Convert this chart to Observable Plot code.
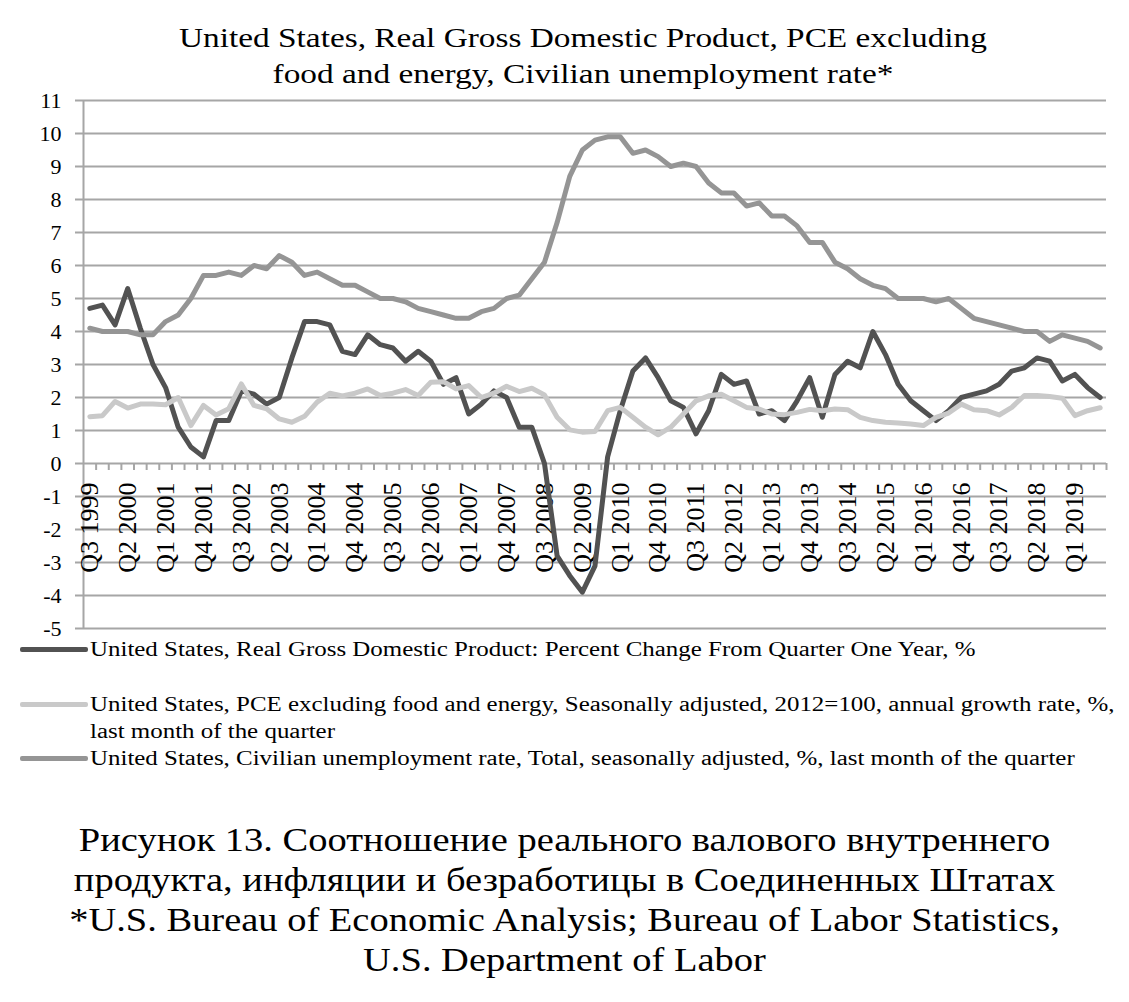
<!DOCTYPE html>
<html>
<head>
<meta charset="utf-8">
<script src="https://cdn.jsdelivr.net/npm/d3@7"></script>
<script src="https://cdn.jsdelivr.net/npm/@observablehq/plot@0.6"></script>
<style>
  body { margin: 0; background: #fff; font-family: "Liberation Serif", "Times New Roman", serif; color: #000; }
  #wrap { position: relative; width: 1129px; height: 1002px; overflow: hidden; }
  #title { position: absolute; top: 20px; left: 0; width: 1166px; text-align: center; font-size: 28px; line-height: 36px; transform: scaleX(1.19); transform-origin: 50% 50%; }
  #chart { position: absolute; top: 0; left: 0; }
  #legend { position: absolute; top: 636px; left: 20px; width: 1100px; font-size: 20px; line-height: 27px; }
  .li { position: relative; padding-left: 70px; }
  .sw { position: absolute; left: 0; top: 11px; width: 68px; height: 5px; border-radius: 2px; }
  .lt { display: inline-block; width: 835px; transform: scaleX(1.246); transform-origin: 0 50%; white-space: normal; }
  #caption { position: absolute; top: 820px; left: 0; width: 1129px; text-align: center; font-size: 33px; line-height: 40px; transform: scaleX(1.166); transform-origin: 50% 50%; }
</style>
</head>
<body>
<div id="wrap">
  <div id="chart"></div>
  <div id="title"></div>
  <div id="legend"></div>
  <div id="caption"></div>
</div>
<script>
// ---- Data ----
const quarters = [
  "Q3 1999","Q4 1999",
  "Q1 2000","Q2 2000","Q3 2000","Q4 2000",
  "Q1 2001","Q2 2001","Q3 2001","Q4 2001",
  "Q1 2002","Q2 2002","Q3 2002","Q4 2002",
  "Q1 2003","Q2 2003","Q3 2003","Q4 2003",
  "Q1 2004","Q2 2004","Q3 2004","Q4 2004",
  "Q1 2005","Q2 2005","Q3 2005","Q4 2005",
  "Q1 2006","Q2 2006","Q3 2006","Q4 2006",
  "Q1 2007","Q2 2007","Q3 2007","Q4 2007",
  "Q1 2008","Q2 2008","Q3 2008","Q4 2008",
  "Q1 2009","Q2 2009","Q3 2009","Q4 2009",
  "Q1 2010","Q2 2010","Q3 2010","Q4 2010",
  "Q1 2011","Q2 2011","Q3 2011","Q4 2011",
  "Q1 2012","Q2 2012","Q3 2012","Q4 2012",
  "Q1 2013","Q2 2013","Q3 2013","Q4 2013",
  "Q1 2014","Q2 2014","Q3 2014","Q4 2014",
  "Q1 2015","Q2 2015","Q3 2015","Q4 2015",
  "Q1 2016","Q2 2016","Q3 2016","Q4 2016",
  "Q1 2017","Q2 2017","Q3 2017","Q4 2017",
  "Q1 2018","Q2 2018","Q3 2018","Q4 2018",
  "Q1 2019","Q2 2019","Q3 2019"
];
const tickLabels = [
  "Q3 1999","Q2 2000","Q1 2001","Q4 2001","Q3 2002","Q2 2003","Q1 2004","Q4 2004",
  "Q3 2005","Q2 2006","Q1 2007","Q4 2007","Q3 2008","Q2 2009","Q1 2010","Q4 2010",
  "Q3 2011","Q2 2012","Q1 2013","Q4 2013","Q3 2014","Q2 2015","Q1 2016","Q4 2016",
  "Q3 2017","Q2 2018","Q1 2019"
];
const yTicks = [-5,-4,-3,-2,-1,0,1,2,3,4,5,6,7,8,9,10,11];

// Real GDP, % change from quarter one year ago
const gdp = [
  4.7, 4.8,
  4.2, 5.3, 4.1, 3.0,
  2.3, 1.1, 0.5, 0.2,
  1.3, 1.3, 2.2, 2.1,
  1.8, 2.0, 3.2, 4.3,
  4.3, 4.2, 3.4, 3.3,
  3.9, 3.6, 3.5, 3.1,
  3.4, 3.1, 2.4, 2.6,
  1.5, 1.8, 2.2, 2.0,
  1.1, 1.1, 0.0, -2.8,
  -3.4, -3.9, -3.1, 0.2,
  1.6, 2.8, 3.2, 2.6,
  1.9, 1.7, 0.9, 1.6,
  2.7, 2.4, 2.5, 1.5,
  1.6, 1.3, 1.9, 2.6,
  1.4, 2.7, 3.1, 2.9,
  4.0, 3.3, 2.4, 1.9,
  1.6, 1.3, 1.6, 2.0,
  2.1, 2.2, 2.4, 2.8,
  2.9, 3.2, 3.1, 2.5,
  2.7, 2.3, 2.0
];
// PCE excluding food and energy, annual growth rate, %
const pce = [
  1.42, 1.45,
  1.88, 1.68, 1.8, 1.8,
  1.78, 2.0, 1.15, 1.76,
  1.47, 1.66, 2.41, 1.76,
  1.66, 1.35, 1.25, 1.43,
  1.86, 2.13, 2.05, 2.13,
  2.26, 2.06, 2.13, 2.24,
  2.06, 2.46, 2.48, 2.26,
  2.36, 2.0, 2.13, 2.34,
  2.18, 2.28, 2.08, 1.4,
  1.02, 0.95, 0.97, 1.6,
  1.7, 1.4, 1.1, 0.87,
  1.1, 1.5, 1.9, 2.05,
  2.1, 1.9, 1.7, 1.65,
  1.5, 1.48, 1.55, 1.64,
  1.6, 1.65, 1.63, 1.4,
  1.3, 1.25, 1.23, 1.2,
  1.15, 1.4, 1.53, 1.8,
  1.63, 1.6, 1.47, 1.7,
  2.06, 2.06, 2.03, 1.98,
  1.45, 1.6, 1.69
];
// Civilian unemployment rate, %
const unemp = [
  4.1, 4.0,
  4.0, 4.0, 3.9, 3.9,
  4.3, 4.5, 5.0, 5.7,
  5.7, 5.8, 5.7, 6.0,
  5.9, 6.3, 6.1, 5.7,
  5.8, 5.6, 5.4, 5.4,
  5.2, 5.0, 5.0, 4.9,
  4.7, 4.6, 4.5, 4.4,
  4.4, 4.6, 4.7, 5.0,
  5.1, 5.6, 6.1, 7.3,
  8.7, 9.5, 9.8, 9.9,
  9.9, 9.4, 9.5, 9.3,
  9.0, 9.1, 9.0, 8.5,
  8.2, 8.2, 7.8, 7.9,
  7.5, 7.5, 7.2, 6.7,
  6.7, 6.1, 5.9, 5.6,
  5.4, 5.3, 5.0, 5.0,
  5.0, 4.9, 5.0, 4.7,
  4.4, 4.3, 4.2, 4.1,
  4.0, 4.0, 3.7, 3.9,
  3.8, 3.7, 3.5
];

const seriesNames = [
  "United States, Real Gross Domestic Product: Percent Change From Quarter One Year, %",
  "United States, PCE excluding food and energy, Seasonally adjusted, 2012=100, annual growth rate, %, last month of the quarter",
  "United States, Civilian unemployment rate, Total, seasonally adjusted, %, last month of the quarter"
];
const seriesColors = ["#525252", "#c9c9c9", "#959595"];
const titleLines = [
  "United States, Real Gross Domestic Product, PCE excluding",
  "food and energy, Civilian unemployment rate*"
];
const captionLines = [
  "Рисунок 13. Соотношение реального валового внутреннего",
  "продукта, инфляции и безработицы в Соединенных Штатах",
  "*U.S. Bureau of Economic Analysis; Bureau of Labor Statistics,",
  "U.S. Department of Labor"
];

// ---- Layout ----
const W = 1129, H = 645;
const mL = 83, mR = 23, mT = 100, mB = 17;
const step = (W - mL - mR) / quarters.length;
const pxPerUnit = (H - mT - mB) / (yTicks[yTicks.length - 1] - yTicks[0]);
const gridColor = "#a6a6a6";
const font = '"Liberation Serif", "Times New Roman", serif';

const rows = (arr) => quarters.map((q, i) => ({q, v: arr[i]}));

const chart = Plot.plot({
  width: W, height: H,
  marginLeft: mL, marginRight: mR, marginTop: mT, marginBottom: mB,
  style: {fontFamily: font, background: "#fff", color: "#000", overflow: "visible"},
  x: {type: "point", domain: quarters, padding: 0.5, axis: null},
  y: {domain: [yTicks[0], yTicks[yTicks.length - 1]], axis: null},
  marks: [
    Plot.ruleY(yTicks, {y: d => d, stroke: gridColor, strokeWidth: 2, insetLeft: -8}),
    Plot.ruleX([quarters[0]], {x: d => d, dx: -step / 2, stroke: gridColor, strokeWidth: 2}),
    Plot.ruleX(quarters, {x: d => d, y1: () => 0, y2: () => -7 / pxPerUnit, dx: step / 2, stroke: gridColor, strokeWidth: 2}),
    Plot.axisY(yTicks, {tickSize: 0, tickPadding: 22, fontSize: 22, fill: "#000", label: null, fontFamily: font, tickFormat: d => String(d)}),
    Plot.text(tickLabels, {x: d => d, y: () => 0, text: d => d, rotate: -90, textAnchor: "end", lineAnchor: "middle", dy: 19, fontSize: 26, fill: "#000", fontFamily: font}),
    Plot.line(rows(gdp), {x: "q", y: "v", stroke: seriesColors[0], strokeWidth: 5, strokeLinejoin: "round", strokeLinecap: "round"}),
    Plot.line(rows(pce), {x: "q", y: "v", stroke: seriesColors[1], strokeWidth: 5, strokeLinejoin: "round", strokeLinecap: "round"}),
    Plot.line(rows(unemp), {x: "q", y: "v", stroke: seriesColors[2], strokeWidth: 5, strokeLinejoin: "round", strokeLinecap: "round"})
  ]
});
document.getElementById("chart").appendChild(chart);

document.getElementById("title").innerHTML = titleLines.map(t => `<div>${t}</div>`).join("");
document.getElementById("caption").innerHTML = captionLines.map(t => `<div>${t}</div>`).join("");
const leg = document.getElementById("legend");
const gaps = [0, 28, 0];
seriesNames.forEach((name, i) => {
  const d = document.createElement("div");
  d.className = "li";
  d.style.marginTop = gaps[i] + "px";
  d.innerHTML = `<span class="sw" style="background:${seriesColors[i]}"></span><span class="lt">${name}</span>`;
  leg.appendChild(d);
});
</script>
</body>
</html>
